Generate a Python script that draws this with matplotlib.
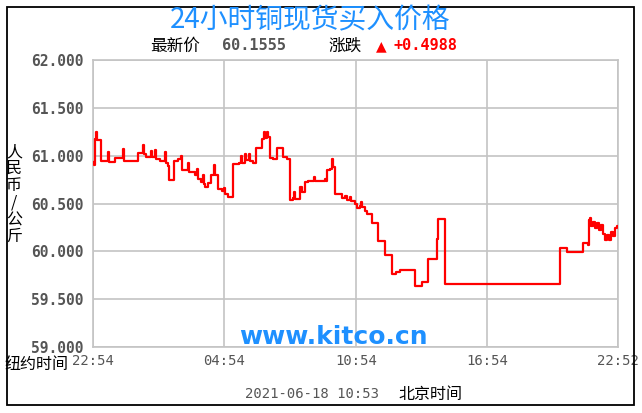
import matplotlib
matplotlib.use("Agg")
import matplotlib.pyplot as plt
from matplotlib.patches import Rectangle

# hours after 22:54 (New York time) and copper price, RMB/kg
hours = [0.0, 0.05, 0.09, 0.14, 0.18, 0.37, 0.64, 0.68, 0.73, 1.0, 1.37, 1.42,
         2.05, 2.28, 2.33, 2.42, 2.65, 2.69, 2.83, 2.88, 3.06, 3.29, 3.33, 3.42,
         3.47, 3.70, 3.88, 4.02, 4.06, 4.34, 4.38, 4.66, 4.75, 4.79, 4.93, 5.02,
         5.07, 5.11, 5.25, 5.39, 5.53, 5.57, 5.71, 5.89, 5.98, 6.03, 6.16, 6.39,
         6.67, 6.76, 6.80, 6.94, 6.99, 7.12, 7.17, 7.31, 7.44, 7.72, 7.81, 7.85,
         7.95, 7.99, 8.08, 8.22, 8.40, 8.58, 8.68, 8.86, 9.00, 9.13, 9.18, 9.22,
         9.45, 9.54, 9.68, 9.82, 10.09, 10.14, 10.59, 10.64, 10.68, 10.82, 10.91,
         10.96, 11.05, 11.37, 11.51, 11.60, 11.74, 11.78, 11.96, 12.05, 12.19,
         12.24, 12.28, 12.42, 12.51, 12.74, 13.01, 13.33, 13.65, 13.84, 14.02,
         14.70, 15.02, 15.30, 15.71, 15.75, 16.07, 21.32, 21.64, 22.37, 22.60,
         22.65, 22.69, 22.74, 22.83, 22.92, 23.01, 23.10, 23.20, 23.29, 23.38,
         23.47, 23.56, 23.65, 23.74, 23.84, 23.93, 23.967]
prices = [60.93, 60.90, 61.17, 61.25, 61.16, 60.94, 60.94, 61.04, 60.93, 60.98, 61.07, 60.94,
          61.03, 61.11, 61.02, 60.99, 61.05, 60.99, 61.06, 60.96, 60.94, 61.04, 60.92, 60.89,
          60.75, 60.94, 60.96, 61.00, 60.85, 60.92, 60.83, 60.80, 60.86, 60.76, 60.72, 60.80,
          60.70, 60.67, 60.71, 60.80, 60.90, 60.80, 60.65, 60.63, 60.66, 60.60, 60.57, 60.91,
          60.92, 61.00, 60.92, 61.02, 60.95, 61.02, 60.94, 60.92, 61.08, 61.17, 61.25, 61.18,
          61.25, 61.19, 60.98, 60.96, 61.08, 61.08, 60.99, 60.96, 60.54, 60.56, 60.62, 60.55,
          60.67, 60.62, 60.72, 60.73, 60.78, 60.73, 60.76, 60.74, 60.85, 60.86, 60.96,
          60.88, 60.60, 60.56, 60.58, 60.54, 60.57, 60.53, 60.49, 60.45, 60.47,
          60.52, 60.46, 60.42, 60.39, 60.30, 60.11, 59.96, 59.76, 59.78, 59.81,
          59.64, 59.68, 59.92, 60.13, 60.34, 59.66, 60.03, 59.99, 60.09, 60.07,
          60.33, 60.35, 60.27, 60.31, 60.24, 60.30, 60.22, 60.28, 60.18, 60.12,
          60.17, 60.12, 60.20, 60.16, 60.24, 60.26, 60.26]

x_ticks = [0, 6, 12, 18, 23.967]
x_labels = ["22:54", "04:54", "10:54", "16:54", "22:52"]
y_ticks = [59.0, 59.5, 60.0, 60.5, 61.0, 61.5, 62.0]
y_labels = ["59.000", "59.500", "60.000", "60.500", "61.000", "61.500", "62.000"]

W, H = 642, 413
cjk = ["Noto Sans CJK SC", "DejaVu Sans"]
mono = "DejaVu Sans Mono"
grey = "#555555"

fig = plt.figure(figsize=(W / 100, H / 100), dpi=100)
fig.patch.set_facecolor("white")
ax = fig.add_axes([93 / W, 1 - 347 / H, (618 - 93) / W, (347 - 60) / H])

ax.plot(hours, prices, color="#ff0000", lw=1.6, drawstyle="steps-post", zorder=3)

ax.set_xlim(0, 23.967)
ax.set_ylim(59.0, 62.0)
ax.set_xticks(x_ticks)
ax.set_xticklabels(x_labels, family=mono, fontsize=10, color=grey)
ax.set_yticks(y_ticks)
ax.set_yticklabels(y_labels, family=mono, fontsize=10.5, color=grey, fontweight="bold")
ax.tick_params(length=0, pad=7)
ax.tick_params(axis="x", pad=5)
ax.grid(True, color="#c4c4c4", lw=1.2)
for s in ax.spines.values():
    s.set_color("#c4c4c4")
    s.set_linewidth(1.2)


def px(x, y):
    return x / W, 1 - y / H


# outer frame
fig.patches.append(Rectangle(px(7, 405), (634 - 7) / W, (405 - 7) / H,
                             transform=fig.transFigure, fill=False,
                             edgecolor="black", lw=1.3))

fig.text(*px(310, 20), "24小时铜现货买入价格", family=cjk, fontsize=20,
         fontweight="medium", color="#1e90ff", ha="center", va="center")
fig.text(*px(150, 46), "最新价", family=cjk, fontsize=12, ha="left", va="center")
fig.text(*px(222, 46), "60.1555", family=mono, fontsize=11, fontweight="bold",
         color=grey, ha="left", va="center")
fig.text(*px(328, 46), "涨跌", family=cjk, fontsize=12, ha="left", va="center")
fig.text(*px(376, 46), "▲", family="DejaVu Sans", fontsize=10, color="#ff0000",
         ha="left", va="center")
fig.text(*px(394, 46), "+0.4988", family=mono, fontsize=11, fontweight="bold",
         color="#ff0000", ha="left", va="center")

fig.text(*px(14, 194), "\n".join("人民币/公斤"), family=cjk, fontsize=11.5,
         ha="center", va="center", linespacing=1.0)
fig.text(*px(68, 364), "纽约时间", family=cjk, fontsize=11.5, ha="right", va="center")

fig.text(*px(333, 337), "www.kitco.cn", family="DejaVu Sans", fontsize=18,
         fontweight="bold", color="#1e90ff", ha="center", va="center", zorder=5)

fig.text(*px(245, 394), "2021-06-18 10:53", family=mono, fontsize=10, color=grey,
         ha="left", va="center")
fig.text(*px(398, 394), "北京时间", family=cjk, fontsize=11.5, ha="left", va="center")

fig.savefig("out.png", dpi=100)
